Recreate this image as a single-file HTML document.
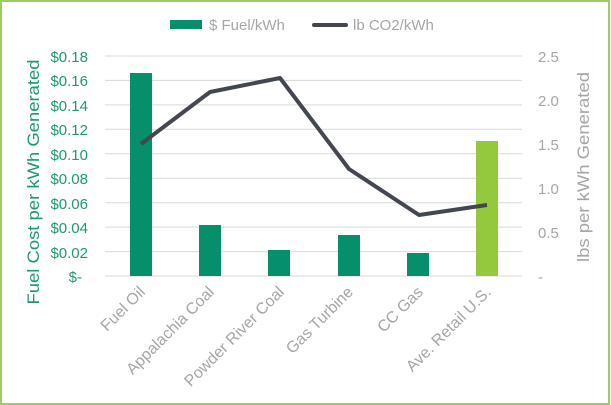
<!DOCTYPE html><html><head><style>body{margin:0}svg{display:block}</style></head><body>
<svg width="611" height="405" xmlns="http://www.w3.org/2000/svg" font-family="'Century Gothic','Liberation Sans',sans-serif">
<rect x="1" y="1" width="608" height="403" fill="#fff" stroke="#9ccc65" stroke-width="2"/>
<g stroke="#d9d9d9" stroke-width="1">
<line x1="105" x2="522" y1="56" y2="56"/><line x1="105" x2="522" y1="80.4" y2="80.4"/><line x1="105" x2="522" y1="104.9" y2="104.9"/><line x1="105" x2="522" y1="129.3" y2="129.3"/><line x1="105" x2="522" y1="153.8" y2="153.8"/><line x1="105" x2="522" y1="178.2" y2="178.2"/><line x1="105" x2="522" y1="202.7" y2="202.7"/><line x1="105" x2="522" y1="227.1" y2="227.1"/><line x1="105" x2="522" y1="251.6" y2="251.6"/><line x1="105" x2="522" y1="276" y2="276"/>
</g>
<g fill="#058f6a">
<rect x="130" y="73" width="22" height="203"/><rect x="199" y="225" width="22" height="51"/><rect x="268" y="250" width="22" height="26"/><rect x="338" y="235" width="22" height="41"/><rect x="407" y="253" width="22" height="23"/>
</g>
<rect x="476" y="141" width="22" height="135" fill="#95c93d"/>
<polyline points="141,144 210,92 280,78 349,169 419,215 487,205" fill="none" stroke="#424750" stroke-width="4" stroke-linejoin="round"/>
<g fill="#1a9a70" font-size="15" text-anchor="end">
<text x="88" y="62">$0.18</text><text x="88" y="86">$0.16</text><text x="88" y="111">$0.14</text><text x="88" y="135">$0.12</text><text x="88" y="160">$0.10</text><text x="88" y="184">$0.08</text><text x="88" y="209">$0.06</text><text x="88" y="233">$0.04</text><text x="88" y="258">$0.02</text><text x="82" y="282">$-</text>
</g>
<g fill="#a6a6a6" font-size="15">
<text x="538" y="62">2.5</text><text x="538" y="106">2.0</text><text x="538" y="150">1.5</text><text x="538" y="194">1.0</text><text x="538" y="238">0.5</text><text x="538" y="282">-</text>
</g>
<text transform="translate(39,182) rotate(-90)" text-anchor="middle" fill="#1a9a70" font-size="17" textLength="245" lengthAdjust="spacingAndGlyphs">Fuel Cost per kWh Generated</text>
<text transform="translate(589,167) rotate(-90)" text-anchor="middle" fill="#a6a6a6" font-size="17" textLength="190" lengthAdjust="spacingAndGlyphs">lbs per kWh Generated</text>
<g fill="#a6a6a6" font-size="16" text-anchor="end">
<text transform="translate(146,293) rotate(-45)">Fuel Oil</text>
<text transform="translate(215,293) rotate(-45)">Appalachia Coal</text>
<text transform="translate(285,293) rotate(-45)">Powder River Coal</text>
<text transform="translate(354,293) rotate(-45)">Gas Turbine</text>
<text transform="translate(424,293) rotate(-45)">CC Gas</text>
<text transform="translate(492,293) rotate(-45)">Ave. Retail U.S.</text>
</g>
<rect x="170" y="20" width="32" height="9" fill="#058f6a"/>
<text x="209" y="30" fill="#a6a6a6" font-size="15">$ Fuel/kWh</text>
<line x1="314" x2="346" y1="25" y2="25" stroke="#424750" stroke-width="4" stroke-linecap="round"/>
<text x="353" y="30" fill="#a6a6a6" font-size="15">lb CO2/kWh</text>
</svg>
</body></html>
